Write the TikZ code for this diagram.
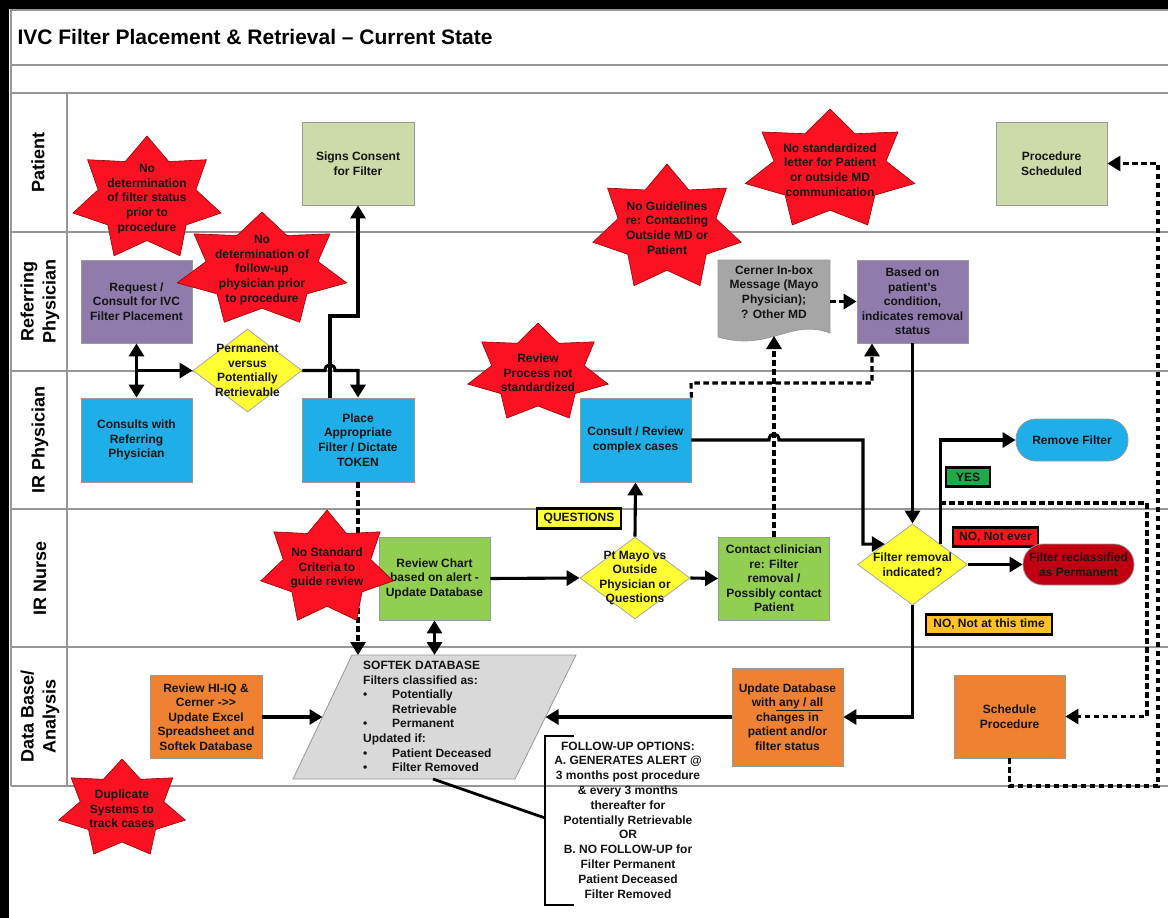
\documentclass[tikz,border=0pt]{standalone}
\usepackage{fontspec}
\setmainfont{Liberation Sans}
\usetikzlibrary{arrows.meta,shapes.geometric,calc}

\definecolor{consentgreen}{RGB}{205,218,170}
\definecolor{refpurple}{RGB}{143,124,173}
\definecolor{irblue}{RGB}{30,174,232}
\definecolor{nursegreen}{RGB}{146,206,82}
\definecolor{dborange}{RGB}{238,130,50}
\definecolor{decyellow}{RGB}{255,255,51}
\definecolor{dbgray}{RGB}{217,217,217}
\definecolor{docgray}{RGB}{166,166,166}
\definecolor{alertred}{RGB}{250,18,34}
\definecolor{permred}{RGB}{192,0,18}
\definecolor{tagamber}{RGB}{255,192,40}
\definecolor{taggreen}{RGB}{30,170,75}
\definecolor{tagyellow}{RGB}{255,255,60}
\definecolor{tagred}{RGB}{255,20,30}
\definecolor{lanegray}{RGB}{150,150,150}

\tikzset{
  lbl/.style={font=\fontsize{12}{14.6}\selectfont\bfseries, text=black!92, align=center},
  stepbox/.style={lbl, rectangle, draw=black!40, line width=0.8pt, inner sep=0pt,
    minimum width=111pt, minimum height=83pt},
  pillbox/.style={lbl, rectangle, rounded corners=20pt, draw=black!40, line width=0.8pt,
    inner sep=0pt, minimum width=112pt, minimum height=42pt},
  decision/.style={diamond, draw=black!35, line width=0.8pt, fill=decyellow, inner sep=0pt,
    minimum width=110pt, minimum height=82pt},
  tagbox/.style={lbl, draw=black, line width=2.8pt, inner sep=0pt, minimum height=19pt},
  lanetxt/.style={font=\fontsize{18}{22}\selectfont\bfseries, align=center, rotate=90},
  laneline/.style={draw=lanegray, line width=1.2pt},
  flow/.style={line width=3.1pt, -{Triangle[length=13pt,width=15pt]}},
  biflow/.style={line width=3.1pt, {Triangle[length=13pt,width=15pt]}-{Triangle[length=13pt,width=15pt]}},
  dashflow/.style={flow, dash pattern=on 5.5pt off 3.5pt},
  starfill/.style={fill=alertred, draw=red!60!black, line width=0.6pt},
}

% seven-pointed alert star: name, centre x, centre y, x radius, y radius, text
\newcommand\alertstar[6]{%
  \filldraw[starfill] ({#2},{#3-#5})
    \foreach \k in {1,...,13}{
      -- ({#2+#4*cos(90+\k*180/7)*(1-0.34*mod(\k,2))},{#3-#5*sin(90+\k*180/7)*(1-0.34*mod(\k,2))})
    } -- cycle;
  \node[lbl] (#1) at (#2,#3) {#6};
}

\begin{document}
\begin{tikzpicture}[x=1pt,y=-1pt]
\useasboundingbox (0,0) rectangle (1168,918);
\fill[black] (0,0) rectangle (1168,918);
\fill[white] (9,9) rectangle (1168,918);

% frame, title row and swim lanes
\draw[laneline] (11,786) -- (11,10) -- (1168,10);
\foreach \yy in {65,93,232,371,509,647,786}{
  \draw[laneline] (11,\yy) -- (1168,\yy);
}
\draw[laneline] (67,93) -- (67,786);

\node[anchor=base west, font=\fontsize{21}{25}\selectfont\bfseries] (title) at (14,45)
  {IVC Filter Placement \& Retrieval – Current State};

\node[lanetxt] (lanePatient) at (38,162.5) {Patient};
\node[lanetxt] (laneRef) at (40,301.5) {Referring\\Physician};
\node[lanetxt] (laneIR) at (40,440) {IR Physician};
\node[lanetxt] (laneNurse) at (40,578) {IR Nurse};
\node[lanetxt] (laneDB) at (40,716.5) {Data Base/\\Analysis};

% Patient lane
\node[stepbox, fill=consentgreen, minimum width=112pt] (consent) at (358,163.5) {Signs Consent\\for Filter};
\node[stepbox, fill=consentgreen] (procsched) at (1051.5,163.5) {Procedure\\Scheduled};

% Referring physician lane
\node[stepbox, fill=refpurple] (request) at (136.5,301.5) {Request /\\Consult for IVC\\Filter Placement};
\filldraw[fill=docgray, draw=black!40, line width=0.8pt]
  (718,260) -- (830,260) -- (830,333) .. controls (790,318) and (770,352) .. (718,337) -- cycle;
\node[minimum width=112pt, minimum height=83pt, inner sep=0pt,
  label={[lbl, yshift=9.5pt]center:{Cerner In-box\\Message (Mayo\\Physician);\\? Other MD}}]
  (cerner) at (774,301.5) {};
\coordinate (cernerB) at (774,336);
\node[stepbox, fill=refpurple] (basedon) at (912.5,301.5) {Based on\\patient's\\condition,\\indicates removal\\status};

% IR physician lane
\node[stepbox, fill=irblue, minimum height=84pt] (consults) at (136.5,440) {Consults with\\Referring\\Physician};
\node[decision, minimum width=109pt, minimum height=83pt,
  label={[lbl]center:{Permanent\\versus\\Potentially\\Retrievable}}] (perm) at (247.5,370.5) {};
\node[stepbox, fill=irblue, minimum width=112pt, minimum height=84pt] (place) at (358,440) {Place\\Appropriate\\Filter / Dictate\\TOKEN};
\node[stepbox, fill=irblue, minimum height=84pt] (crc) at (635.5,440) {Consult / Review\\complex cases};
\node[pillbox, fill=irblue] (remfilter) at (1072,440) {Remove Filter};
\node[tagbox, fill=taggreen, minimum width=44pt] (yes) at (968,477) {YES};

% IR nurse lane
\node[tagbox, fill=tagyellow, minimum width=84pt, minimum height=20pt] (questions) at (579,518.5) {QUESTIONS};
\node[stepbox, fill=nursegreen] (review) at (434.5,578.5) {Review Chart\\based on alert -\\Update Database};
\node[decision, label={[lbl]center:{Pt Mayo vs\\Outside\\Physician or\\Questions}}] (ptmayo) at (635,578) {};
\node[stepbox, fill=nursegreen] (contact) at (774,578.5) {Contact clinician\\re: Filter\\removal /\\Possibly contact\\Patient};
\node[decision, minimum height=81pt, label={[lbl]center:{Filter removal\\indicated?}}] (frem) at (912.5,564.5) {};
\coordinate (fremNW) at ($(frem.north)!0.5!(frem.west)$);
\coordinate (fremNE) at ($(frem.north)!0.5!(frem.east)$);
\node[tagbox, fill=tagred, minimum width=85pt] (noever) at (995.5,537) {NO, Not ever};
\node[pillbox, fill=permred, minimum width=111pt, minimum height=41pt] (reclass) at (1078.5,564.5) {Filter reclassified\\as Permanent};
\node[tagbox, fill=tagamber, minimum width=126pt, minimum height=20pt] (notnow) at (989,624.5) {NO, Not at this time};

% Data base / analysis lane
\node[stepbox, fill=dborange, minimum width=112pt] (hiiq) at (206,717) {Review HI-IQ \&\\Cerner -{}>{}>\\Update Excel\\Spreadsheet and\\Softek Database};
\coordinate (dbTL) at (352,655);
\coordinate (dbTR) at (576,655);
\coordinate (dbBR) at (515,779);
\coordinate (dbBL) at (293,779);
\filldraw[fill=dbgray, draw=black!40, line width=0.8pt] (dbTL) -- (dbTR) -- (dbBR) -- (dbBL) -- cycle;
\coordinate (dbW) at ($(dbTL)!0.5!(dbBL)$);
\coordinate (dbE) at ($(dbTR)!0.5!(dbBR)$);
\coordinate (dbS) at (433,779);
\node[lbl, align=left, anchor=west, inner sep=0pt] (softek) at (363,716.5)
  {SOFTEK DATABASE\\Filters classified as:\\
   \makebox[29pt][l]{\textbullet}Potentially\\\hspace*{29pt}Retrievable\\
   \makebox[29pt][l]{\textbullet}Permanent\\Updated if:\\
   \makebox[29pt][l]{\textbullet}Patient Deceased\\
   \makebox[29pt][l]{\textbullet}Filter Removed};
\node[stepbox, fill=dborange, minimum height=98pt] (updatedb) at (787.5,717)
  {Update Database\\with\underline{ any / all}\\changes in\\patient and/or\\filter status};
\node[stepbox, fill=dborange] (schedproc) at (1009.5,716.5) {Schedule\\Procedure};

% follow-up options
\node[lbl, font=\fontsize{12}{14.8}\selectfont\bfseries, inner sep=0pt] (followup) at (628,820)
  {FOLLOW-UP OPTIONS:\\A. GENERATES ALERT @\\3 months post procedure\\\& every 3 months\\thereafter for\\Potentially Retrievable\\OR\\B. NO FOLLOW-UP for\\Filter Permanent\\Patient Deceased\\Filter Removed};
\coordinate (brTop) at (574,736);
\coordinate (brBot) at (574,905);
\coordinate (brMid) at (545,818);
\draw[line width=2.8pt] (brTop) -- (545,736) -- (545,905) -- (brBot);
\draw[line width=2.8pt] (dbS) -- (brMid);

% solid connectors
\draw[biflow] (request.south) -- (consults.north);
\coordinate (split) at (136.5,370.5);
\draw[flow] (split) -- (perm.west);
\draw[flow] (perm.east) -- (325,370.5) .. controls (325,363) and (335,363) .. (335,370.5) -| (place.north);
\draw[flow] ([xshift=-28pt]place.north) -- (330,316) -| (consent.south);
\draw[biflow] (review.south) -- (review.south |- dbTL);
\draw[flow] (review.east) -- (ptmayo.west);
\draw[flow] (ptmayo.north) -- (crc.south);
\draw[flow] (ptmayo.east) -- (contact.west);
\draw[flow] (basedon.south) -- (frem.north);
\draw[flow] (fremNE) |- (remfilter.west);
\draw[flow] (frem.east) -- (reclass.west);
\draw[flow] (frem.south) |- (updatedb.east);
\draw[flow] (updatedb.west) -- (dbE);
\draw[flow] (hiiq.east) -- (dbW);

% dashed connectors
\draw[dashflow] (place.south) -- (place.south |- dbTL);
\draw[dashflow] (contact.north) -- (cernerB);
\draw[dashflow] (crc.north east) -- (691,383) -| ([xshift=-40.5pt]basedon.south);
\draw[dashflow] (cerner.east) -- (basedon.west);
\coordinate (yesbranch) at (fremNE |- 0,503);
\draw[dashflow] (yesbranch) -- (1147,503) -- (1147,716.5) -- (schedproc.east);
\draw[dashflow] (schedproc.south) -- (1009.5,786) -- (1158,786) -- (1158,163.5) -- (procsched.east);

% complex cases go on to the removal decision (hops over the dashed line)
\draw[flow] (crc.east) -- (769,440) .. controls (769,432) and (779,432) .. (779,440) -- (863,440) |- (fremNW);

% process gaps
\alertstar{gapStatus}{147}{199}{76}{63}{No\\determination\\of filter status\\prior to\\procedure}
\alertstar{gapFollow}{262}{270}{87}{58}{No\\determination of\\follow-up\\physician prior\\to procedure}
\alertstar{gapGuide}{667}{228}{76}{64}{No Guidelines\\re: Contacting\\Outside MD or\\Patient}
\alertstar{gapLetter}{830}{170}{87}{61}{No standardized\\letter for Patient\\or outside MD\\communication}
\alertstar{gapReview}{538}{373}{72}{50}{Review\\Process not\\standardized}
\alertstar{gapCriteria}{327}{568}{68}{58}{No Standard\\Criteria to\\guide review}
\alertstar{gapDup}{122}{809}{65}{50}{Duplicate\\Systems to\\track cases}
\end{tikzpicture}
\end{document}
